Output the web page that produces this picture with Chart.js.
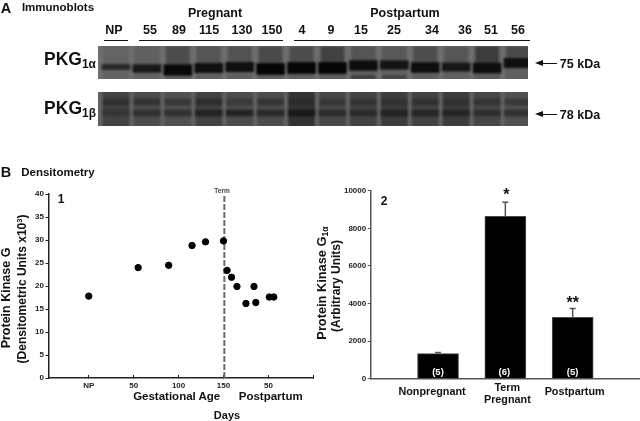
<!DOCTYPE html>
<html>
<head>
<meta charset="utf-8">
<title>PKG immunoblots and densitometry</title>
<script src="https://cdn.jsdelivr.net/npm/chart.js@4"></script>
<style>
  html, body { margin: 0; background: #fff; }
  #page { position: relative; width: 640px; height: 421px; overflow: hidden; color: #111; filter: blur(0.3px); }
  canvas { position: absolute; }
  .blot { filter: blur(1.2px); clip-path: inset(5px); }
  .txt { position: absolute; white-space: nowrap; line-height: 1; text-align: center; }
  .txt sub { font-size: 68%; line-height: 0; vertical-align: -0.25em; }
  .txt sup { font-size: 62%; line-height: 0; vertical-align: 0.6em; }
  .rule { position: absolute; background: #111; }
</style>
</head>
<body>
<div id="page">
  <canvas id="blotA" class="blot" width="440" height="43" style="left:93px;top:41px"></canvas>
  <canvas id="blotB" class="blot" width="440" height="44" style="left:93px;top:87px"></canvas>
  <canvas id="timeChart" width="320" height="241" style="left:0;top:180px"></canvas>
  <canvas id="barChart" width="320" height="241" style="left:320px;top:180px"></canvas>
</div>
<script>
// Immunoblot lanes
const laneLabels = ['NP', '55', '89', '115', '130', '150', '4', '9', '15', '25', '34', '36', '51', '56'];
const alphaBand = [0.3, 0.6, 0.95, 0.8, 0.8, 1, 1, 1, 0.85, 0.7, 0.85, 0.65, 0.85, 0.8];
const alphaMigration = [21, 22.5, 24, 22, 21, 23, 22, 22, 19.5, 19, 21.5, 21, 22, 17];
const alphaSmear = [100, 96, 76, 84, 82, 74, 76, 66, 84, 88, 78, 86, 60, 74];
const alphaLower = [null, null, null, null, null, null, null, null, 0.5, 0.4, null, null, null, null];
const betaBand = [0.2, 0.3, 0.3, 0.65, 0.65, 0.5, 0.85, 0.4, 0.45, 0.65, 0.55, 0.6, 0.35, 0.3];
const betaUpper = [0.5, 0.45, 0.3, 0.6, 0.2, 0.4, 0.7, 0.3, 0.45, 0.5, 0.5, 0.55, 0.4, 0.25];
const betaSmear = [66, 76, 80, 66, 76, 76, 50, 72, 66, 60, 66, 60, 70, 80];

// Densitometry, panel 1
const dayTicks = [0, 50, 100, 150, 200, 250];
const dayTickLabels = ['NP', '50', '100', '150', '50', ''];
const days = [0, 55, 89, 115, 130, 150, 154, 159, 165, 175, 184, 186, 201, 206];
const pkgDensity = [17.8, 24, 24.5, 28.8, 29.6, 29.8, 23.4, 21.9, 19.9, 16.2, 19.9, 16.4, 17.6, 17.6];
const termDay = 151;

// Densitometry, panel 2
const barCategories = ['', 'Nonpregnant', 'Term<br>Pregnant', 'Postpartum', ''];
const barValues = [null, 1330, 8640, 3260, null];
const barErrors = [null, 70, 740, 480, null];
const barCounts = ['', '(5)', '(6)', '(5)', ''];
const barStars = ['', '', '*', '**', ''];

Chart.defaults.animation = false;
Chart.defaults.responsive = false;
Chart.defaults.plugins.legend.display = false;
Chart.defaults.plugins.tooltip.enabled = false;

const page = document.getElementById('page');
const BOLD = '"Liberation Sans", Arial, sans-serif';
const NARROW = '"Liberation Sans Narrow", "Liberation Sans", Arial, sans-serif';

function put(html, x, y, size, opts) {
  opts = opts || {};
  const el = document.createElement('div');
  el.className = 'txt';
  el.innerHTML = html;
  el.style.left = x + 'px';
  el.style.top = y + 'px';
  el.style.font = 'bold ' + size + 'px ' + (opts.family || BOLD);
  el.style.lineHeight = opts.lineHeight || 1;
  if (opts.color) el.style.color = opts.color;
  el.style.transform = 'translate(-50%,-50%)' + (opts.rotate ? ' rotate(' + opts.rotate + 'deg)' : '');
  page.appendChild(el);
}

function rule(x1, x2, y) {
  const el = document.createElement('div');
  el.className = 'rule';
  el.style.cssText = 'left:' + x1 + 'px;top:' + y + 'px;width:' + (x2 - x1) + 'px;height:1.5px';
  page.appendChild(el);
}

function arrow(x1, x2, y) {
  rule(x1 + 5, x2, y - 0.7);
  const head = document.createElement('div');
  head.style.cssText = 'position:absolute;left:' + x1 + 'px;top:' + (y - 3.5) + 'px;width:0;height:0;' +
    'border-top:3.5px solid transparent;border-bottom:3.5px solid transparent;border-right:8px solid #111';
  page.appendChild(head);
}

const grey = v => 'rgb(' + v + ',' + v + ',' + v + ')';

function blotChart(id, background, height, datasets) {
  return new Chart(document.getElementById(id), {
    type: 'bar',
    data: { labels: laneLabels, datasets },
    plugins: [{
      id: 'film',
      beforeDraw(chart) {
        chart.ctx.fillStyle = background;
        chart.ctx.fillRect(0, 0, chart.width, chart.height);
      }
    }],
    options: {
      layout: { autoPadding: false, padding: { left: 23, right: 15, top: 5, bottom: 5 } },
      scales: {
        x: { display: false, offset: false },
        y: { display: false, reverse: true, min: 0, max: height }
      }
    }
  });
}

function bandSet(values, colors, thickness) {
  return { data: values, backgroundColor: colors, barThickness: thickness, grouped: false, clip: false, borderWidth: 0 };
}

// first dataset is painted last, so the bands come first
blotChart('blotA', '#6e6e6e', 33, [
  bandSet(alphaMigration.map((m, i) => [m - 1.5 - 4 * alphaBand[i], m + 1.5 + 4 * alphaBand[i]]), alphaBand.map(v => grey(Math.round(55 - 50 * v))), 28),
  bandSet(alphaMigration.map((m, i) => alphaLower[i] ? [29.5, 33] : null), alphaLower.map(v => grey(Math.round(92 - 60 * (v || 0)))), 24),
  bandSet(alphaMigration.map(m => [1, m]), alphaSmear.map(grey), 22),
  bandSet(alphaMigration.map(m => [-1, 35]), alphaSmear.map(v => grey(Math.round(100 + (v - 100) * 0.25))), 25)
]);

blotChart('blotB', '#626262', 34, [
  bandSet(betaBand.map(() => [18, 24]), betaBand.map(v => grey(Math.round(62 - 42 * v))), 27),
  bandSet(betaUpper.map(() => [7, 13]), betaUpper.map(v => grey(Math.round(64 - 30 * v))), 26),
  bandSet(laneLabels.map(() => [-1, 35]), betaSmear.map(grey), 26)
]);

const smallTick = { family: BOLD, size: 8, weight: 'bold' };

new Chart(document.getElementById('timeChart'), {
  type: 'scatter',
  data: {
    datasets: [
      {
        data: days.map((d, i) => ({ x: d, y: pkgDensity[i] })),
        backgroundColor: '#000',
        borderColor: '#000',
        pointRadius: 3.2
      },
      {
        data: [{ x: termDay, y: 0 }, { x: termDay, y: 40 }],
        showLine: true,
        borderColor: '#6a6a6a',
        borderWidth: 2,
        borderDash: [6, 2],
        pointRadius: 0
      }
    ]
  },
  options: {
    layout: { autoPadding: false, padding: { top: 14, right: 6.7 } },
    scales: {
      x: {
        type: 'linear',
        min: -44.8,
        max: 250,
        afterBuildTicks(scale) { scale.ticks = dayTicks.map(v => ({ value: v })); },
        afterFit(scale) { scale.height = 43; },
        grid: { drawOnChartArea: false, tickLength: -3, color: '#222', lineWidth: 1 },
        border: { color: '#222', width: 1.5 },
        ticks: {
          autoSkip: false,
          maxRotation: 0,
          padding: 6,
          color: '#222',
          font: smallTick,
          callback: (value, index) => dayTickLabels[index]
        }
      },
      y: {
        min: 0,
        max: 40,
        afterFit(scale) { scale.width = 48.5; },
        grid: { drawOnChartArea: false, tickLength: 3, color: '#222', lineWidth: 1 },
        border: { color: '#222', width: 1.5 },
        ticks: { stepSize: 5, padding: 1.5, color: '#222', font: smallTick }
      }
    }
  }
});

const errorBars = {
  id: 'errorBars',
  afterDatasetsDraw(chart) {
    const { ctx, scales } = chart;
    ctx.save();
    ctx.strokeStyle = '#555';
    ctx.lineWidth = 1.5;
    barValues.forEach((v, i) => {
      if (v === null) return;
      const x = scales.x.getPixelForValue(i);
      const top = scales.y.getPixelForValue(v + barErrors[i]);
      ctx.beginPath();
      ctx.moveTo(x, scales.y.getPixelForValue(v));
      ctx.lineTo(x, top);
      ctx.moveTo(x - 3, top);
      ctx.lineTo(x + 3, top);
      ctx.stroke();
    });
    ctx.restore();
  }
};

const barChart = new Chart(document.getElementById('barChart'), {
  type: 'bar',
  data: {
    labels: barCategories,
    datasets: [{
      data: barValues,
      backgroundColor: '#000',
      borderColor: '#4a4a4a',
      borderWidth: { top: 1, left: 1, right: 1, bottom: 0 },
      barThickness: 41
    }]
  },
  plugins: [errorBars],
  options: {
    layout: { autoPadding: false, padding: { top: 10.7 } },
    scales: {
      x: {
        offset: false,
        afterFit(scale) { scale.height = 42.3; },
        grid: { display: false },
        border: { color: '#555', width: 1.5 },
        ticks: { display: false }
      },
      y: {
        min: 0,
        max: 10000,
        afterFit(scale) { scale.width = 50.7; },
        grid: { drawOnChartArea: false, tickLength: 3, color: '#555', lineWidth: 1 },
        border: { color: '#555', width: 1.5 },
        ticks: { stepSize: 2000, padding: 1.5, color: '#222', font: smallTick, callback: v => String(v) }
      }
    }
  }
});

// Text around panel A
put('A', 6, 8, 14.5);
put('Immunoblots', 58, 8, 11.5, { family: NARROW });
put('Pregnant', 215, 13, 12.5, { family: NARROW });
put('Postpartum', 405, 13, 12.5, { family: NARROW });
const laneLabelX = [114, 150, 179, 209, 242, 272, 302, 331, 361, 394, 432, 465, 491, 518];
laneLabels.forEach((t, i) => put(t, laneLabelX[i], 30, 12.5, { family: NARROW }));
rule(104, 127.5, 39.5);
rule(139, 283, 39.5);
rule(294, 530, 39.5);
put('PKG<sub>1α</sub>', 70, 60, 17.5, { family: NARROW });
put('PKG<sub>1β</sub>', 70, 109, 17.5, { family: NARROW });
arrow(535, 557, 63.5);
arrow(535, 557, 114.5);
put('75 kDa', 580, 64, 12.5);
put('78 kDa', 580, 115, 12.5);

// Text around panel B
put('B', 6, 172, 14.5);
put('Densitometry', 58, 172.5, 11.5);
put('1', 61, 199, 12);
put('Term', 222, 190.7, 6.5, { color: '#444' });
put('Protein Kinase G', 5.5, 298, 12.5, { rotate: -90 });
put('(Densitometric Units x10<sup>3</sup>)', 22, 289, 12, { rotate: -90 });
put('Gestational Age', 176.7, 396.7, 11.5);
put('Postpartum', 270.7, 396.7, 11.5);
put('Days', 227, 415, 11);

put('2', 384, 201, 12);
put('Protein Kinase G<sub>1α</sub>', 322, 283, 12.8, { rotate: -90 });
put('(Arbitrary Units)', 336, 286, 12, { rotate: -90 });

// Panel 2 labels hang off the category positions
const barXScale = barChart.scales.x;
const nudge = [0, -6, 2, 2, 0];
barCategories.forEach((c, i) => {
  if (!c) return;
  const x = barXScale.getPixelForValue(i) + 320;
  put(c, x + nudge[i], i === 2 ? 393 : 391, 10.8, { lineHeight: 1.12 });
  put(barCounts[i], x + (i === 2 ? -1 : 0), 371.7, 9.5, { color: '#fff' });
  if (barStars[i]) put(barStars[i], x + (i === 2 ? 1 : 0), i === 2 ? 195 : 303, 16);
});
</script>
</body>
</html>
